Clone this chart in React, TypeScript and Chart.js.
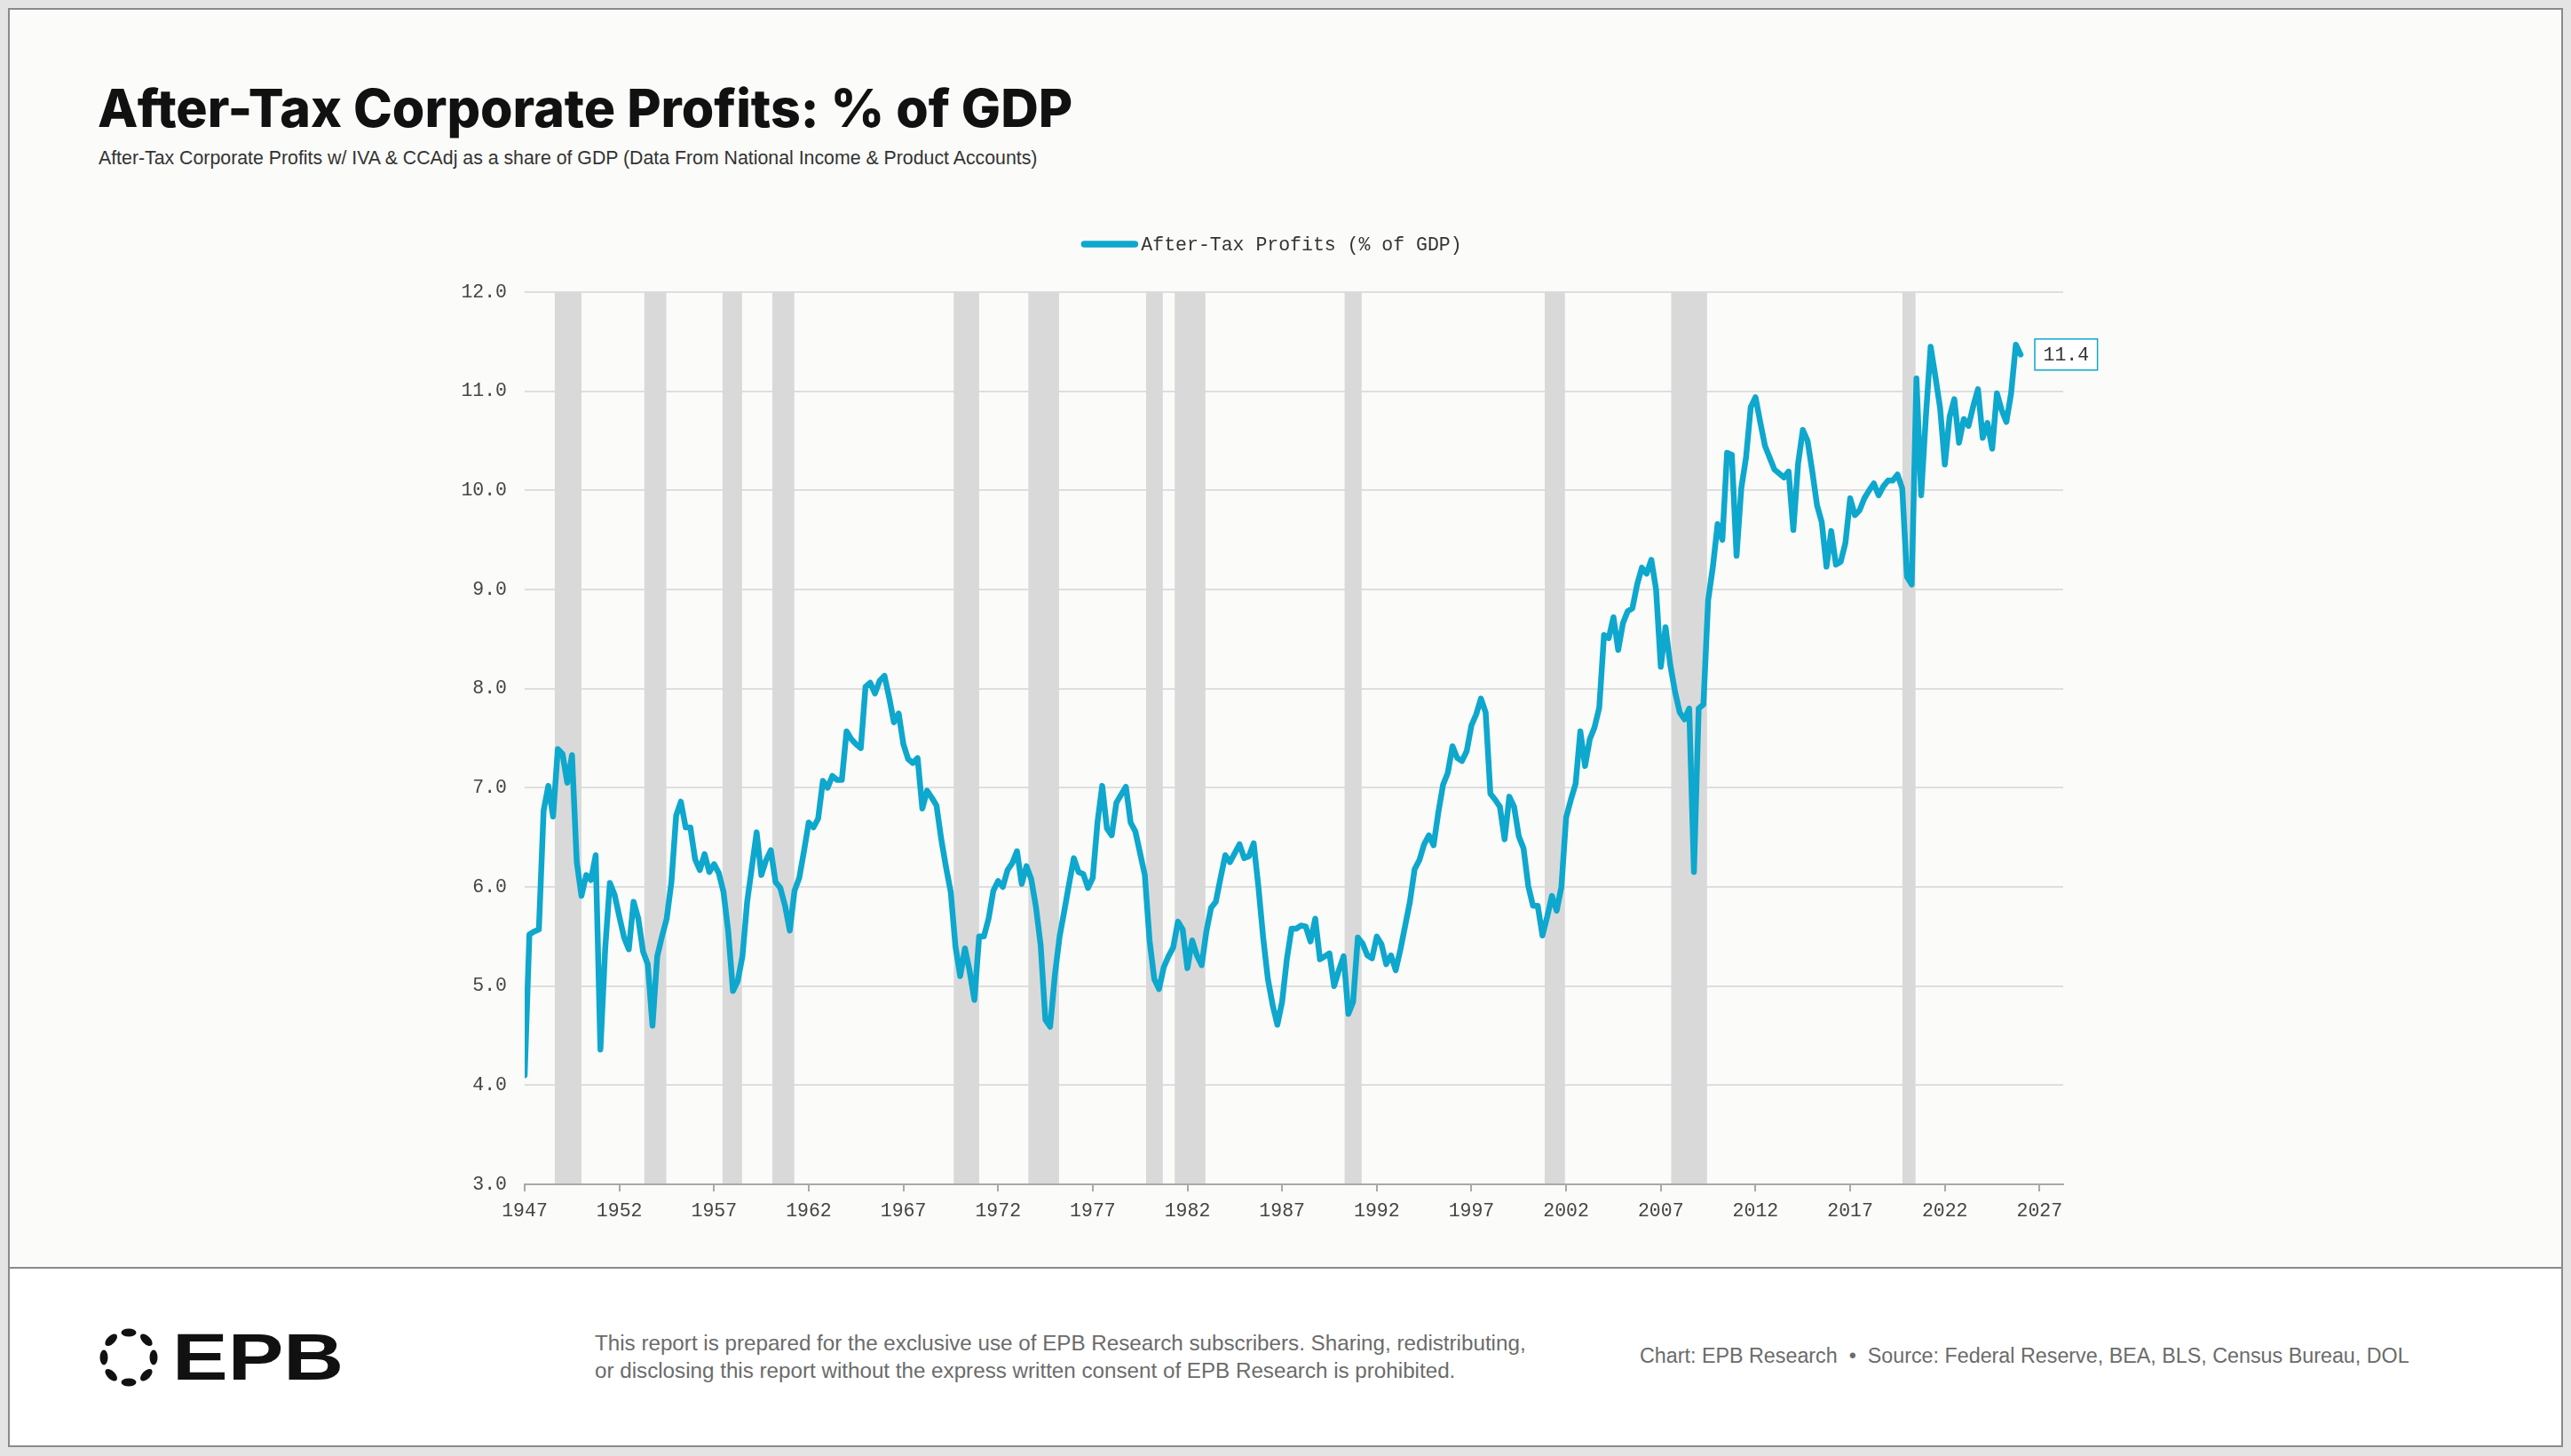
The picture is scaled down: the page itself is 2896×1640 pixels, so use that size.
import React, { useEffect, useRef } from "react";
import { Chart, registerables } from "chart.js";

Chart.register(...registerables);

// ---------------- DATA ----------------
const START_YEAR = 1947; // first quarter 1947Q1, quarterly observations
const profitsPctGdp: number[] = [
  4.10, 5.52, 5.55, 5.57, // 1947
  6.77, 7.02, 6.71, 7.39, // 1948
  7.34, 7.05, 7.33, 6.25, // 1949
  5.91, 6.12, 6.07, 6.32, // 1950
  4.36, 5.37, 6.04, 5.92, // 1951
  5.70, 5.49, 5.37, 5.85, // 1952
  5.68, 5.35, 5.22, 4.60, // 1953
  5.30, 5.50, 5.68, 6.05, // 1954
  6.72, 6.86, 6.60, 6.60, // 1955
  6.28, 6.17, 6.33, 6.15, // 1956
  6.23, 6.14, 5.95, 5.55, // 1957
  4.95, 5.05, 5.30, 5.85, // 1958
  6.20, 6.55, 6.12, 6.27, // 1959
  6.37, 6.05, 5.99, 5.81, // 1960
  5.56, 5.96, 6.09, 6.36, // 1961
  6.65, 6.60, 6.69, 7.07, // 1962
  7.00, 7.12, 7.08, 7.08, // 1963
  7.57, 7.49, 7.44, 7.40, // 1964
  8.02, 8.06, 7.95, 8.08, // 1965
  8.13, 7.91, 7.66, 7.75, // 1966
  7.44, 7.29, 7.25, 7.30, // 1967
  6.79, 6.97, 6.90, 6.82, // 1968
  6.48, 6.20, 5.95, 5.40, // 1969
  5.10, 5.38, 5.15, 4.86, // 1970
  5.50, 5.50, 5.68, 5.96, // 1971
  6.06, 6.00, 6.17, 6.24, // 1972
  6.36, 6.03, 6.21, 6.08, // 1973
  5.80, 5.41, 4.66, 4.59, // 1974
  5.11, 5.50, 5.76, 6.03, // 1975
  6.29, 6.15, 6.13, 5.99, // 1976
  6.09, 6.65, 7.02, 6.59, // 1977
  6.52, 6.85, 6.93, 7.01, // 1978
  6.65, 6.56, 6.34, 6.12, // 1979
  5.46, 5.07, 4.97, 5.19, // 1980
  5.30, 5.39, 5.65, 5.57, // 1981
  5.18, 5.46, 5.31, 5.21, // 1982
  5.55, 5.79, 5.85, 6.09, // 1983
  6.32, 6.25, 6.34, 6.43, // 1984
  6.29, 6.31, 6.44, 6.00, // 1985
  5.49, 5.07, 4.81, 4.61, // 1986
  4.84, 5.27, 5.58, 5.58, // 1987
  5.61, 5.60, 5.45, 5.68, // 1988
  5.27, 5.30, 5.33, 5.00, // 1989
  5.16, 5.30, 4.72, 4.84, // 1990
  5.49, 5.43, 5.31, 5.28, // 1991
  5.50, 5.42, 5.22, 5.31, // 1992
  5.16, 5.37, 5.61, 5.85, // 1993
  6.18, 6.27, 6.43, 6.52, // 1994
  6.42, 6.75, 7.03, 7.15, // 1995
  7.42, 7.30, 7.27, 7.37, // 1996
  7.63, 7.74, 7.90, 7.76, // 1997
  6.94, 6.88, 6.81, 6.48, // 1998
  6.91, 6.81, 6.51, 6.39, // 1999
  6.01, 5.81, 5.81, 5.51, // 2000
  5.70, 5.91, 5.76, 6.00, // 2001
  6.70, 6.88, 7.04, 7.57, // 2002
  7.22, 7.49, 7.61, 7.81, // 2003
  8.54, 8.51, 8.72, 8.39, // 2004
  8.66, 8.78, 8.81, 9.05, // 2005
  9.22, 9.16, 9.30, 9.00, // 2006
  8.22, 8.62, 8.24, 7.97, // 2007
  7.76, 7.69, 7.80, 6.15, // 2008
  7.80, 7.84, 8.89, 9.23, // 2009
  9.66, 9.50, 10.38, 10.36, // 2010
  9.34, 10.02, 10.33, 10.84, // 2011
  10.94, 10.69, 10.45, 10.33, // 2012
  10.21, 10.17, 10.13, 10.19, // 2013
  9.60, 10.27, 10.61, 10.50, // 2014
  10.19, 9.85, 9.68, 9.23, // 2015
  9.59, 9.25, 9.28, 9.47, // 2016
  9.92, 9.75, 9.80, 9.92, // 2017
  10.00, 10.07, 9.95, 10.04, // 2018
  10.10, 10.10, 10.16, 10.02, // 2019
  9.13, 9.05, 11.13, 9.95, // 2020
  10.75, 11.45, 11.15, 10.83, // 2021
  10.26, 10.74, 10.92, 10.48, // 2022
  10.72, 10.65, 10.85, 11.02, // 2023
  10.53, 10.68, 10.42, 10.98, // 2024
  10.81, 10.69, 10.98, 11.47, // 2025
  11.37,
];

// Recession shading (start, end) in decimal years
const recessionStarts: number[] = [1948.59, 1953.32, 1957.45, 1960.08, 1969.66, 1973.6, 1979.82, 1981.33, 1990.3, 2000.87, 2007.55, 2019.76];
const recessionEnds: number[] = [1950.0, 1954.48, 1958.48, 1961.24, 1971.0, 1975.22, 1980.7, 1982.95, 1991.2, 2001.94, 2009.44, 2020.45];

const xTickYears: number[] = [1947, 1952, 1957, 1962, 1967, 1972, 1977, 1982, 1987, 1992, 1997, 2002, 2007, 2012, 2017, 2022, 2027];
const yMin = 3;
const yMax = 12;
const xMin = 1947;
const xMax = 2028.25;

const SERIES_LABEL = "After-Tax Profits (% of GDP)";
const TITLE = "After-Tax Corporate Profits: % of GDP";
const SUBTITLE = "After-Tax Corporate Profits w/ IVA & CCAdj as a share of GDP (Data From National Income & Product Accounts)";
const DISCLAIMER_1 = "This report is prepared for the exclusive use of EPB Research subscribers. Sharing, redistributing,";
const DISCLAIMER_2 = "or disclosing this report without the express written consent of EPB Research is prohibited.";
const SOURCE = "Chart: EPB Research  \u2022  Source: Federal Reserve, BEA, BLS, Census Bureau, DOL";

// ---------------- STYLE ----------------
const LINE_COLOR = "#0ea7cd";
const MONO = "'Liberation Mono', 'DejaVu Sans Mono', monospace";
const SANS = "'Liberation Sans', Arial, sans-serif";
const CANVAS_LEFT = 440;
const CANVAS_TOP = 230;
const CANVAS_W = 2000;
const CANVAS_H = 1180;

const recessionPlugin = {
  id: "recessions",
  beforeDatasetsDraw(chart: any) {
    const { ctx, chartArea, scales } = chart;
    const x = scales.x;
    ctx.save();
    ctx.fillStyle = "#d9d9d9";
    for (let i = 0; i < recessionStarts.length; i++) {
      const x0 = x.getPixelForValue(recessionStarts[i]);
      const x1 = x.getPixelForValue(recessionEnds[i]);
      ctx.fillRect(x0, chartArea.top, x1 - x0, chartArea.bottom - chartArea.top - 1);
    }
    ctx.restore();
  },
};

const legendPlugin = {
  id: "customLegend",
  afterDraw(chart: any) {
    const { ctx } = chart;
    const font = `21.5px ${MONO}`;
    ctx.save();
    ctx.font = font;
    const lineLen = 65;
    const gap = 3;
    const tw = ctx.measureText(SERIES_LABEL).width;
    const total = lineLen + gap + tw;
    const cx = 992;
    const cy = 45;
    const left = cx - total / 2;
    ctx.strokeStyle = LINE_COLOR;
    ctx.lineWidth = 7.5;
    ctx.lineCap = "round";
    ctx.beginPath();
    ctx.moveTo(left + 4, cy);
    ctx.lineTo(left + lineLen - 4, cy);
    ctx.stroke();
    ctx.fillStyle = "#333333";
    ctx.textBaseline = "middle";
    ctx.textAlign = "left";
    ctx.fillText(SERIES_LABEL, left + lineLen + gap, cy + 1);
    ctx.restore();
  },
};

const lastValuePlugin = {
  id: "lastValue",
  afterDatasetsDraw(chart: any) {
    const { ctx } = chart;
    const meta = chart.getDatasetMeta(0);
    const pts = meta.data;
    if (!pts.length) return;
    const pt = pts[pts.length - 1];
    const val = profitsPctGdp[profitsPctGdp.length - 1];
    const text = val.toFixed(1);
    ctx.save();
    ctx.font = `21.5px ${MONO}`;
    const tw = ctx.measureText(text).width;
    const w = tw + 19;
    const h = 35;
    const x = pt.x + 16;
    const y = pt.y - h / 2;
    ctx.fillStyle = "#ffffff";
    ctx.fillRect(x, y, w, h);
    ctx.strokeStyle = LINE_COLOR;
    ctx.lineWidth = 1.5;
    ctx.strokeRect(x, y, w, h);
    ctx.fillStyle = "#333333";
    ctx.textBaseline = "middle";
    ctx.textAlign = "center";
    ctx.fillText(text, x + w / 2, pt.y + 1);
    ctx.restore();
  },
};

function EpbLogo() {
  const petals = [];
  for (let i = 0; i < 8; i++) {
    const a = (i * 45 * Math.PI) / 180;
    const r = 28;
    const cx = 34 + r * Math.sin(a);
    const cy = 34 - r * Math.cos(a);
    petals.push(
      <ellipse key={i} cx={cx} cy={cy} rx={4.5} ry={8.5} fill="#111" transform={`rotate(${i * 45 + 90} ${cx} ${cy})`} />
    );
  }
  return (
    <svg width={68} height={68} viewBox="0 0 68 68" style={{ position: "absolute", left: 111, top: 1495 }}>
      {petals}
    </svg>
  );
}

export default function App() {
  const canvasRef = useRef<HTMLCanvasElement | null>(null);

  useEffect(() => {
    const canvas = canvasRef.current;
    if (!canvas) return;
    const points = profitsPctGdp.map((v, i) => ({ x: START_YEAR + i / 4, y: v }));
    const chart = new Chart(canvas, {
      type: "line",
      data: {
        datasets: [
          {
            label: SERIES_LABEL,
            data: points,
            borderColor: LINE_COLOR,
            backgroundColor: LINE_COLOR,
            borderWidth: 6.5,
            pointRadius: 0,
            pointHoverRadius: 0,
            tension: 0,
            fill: false,
            borderJoinStyle: "round",
            borderCapStyle: "round",
          },
        ],
      },
      options: {
        animation: false,
        responsive: false,
        maintainAspectRatio: false,
        layout: { padding: { top: 99, right: 116, left: 0, bottom: 0 } },
        plugins: {
          legend: { display: false },
          tooltip: { enabled: false },
          title: { display: false },
        },
        scales: {
          x: {
            type: "linear",
            min: xMin,
            max: xMax,
            afterBuildTicks: (scale: any) => {
              scale.ticks = xTickYears.map((v) => ({ value: v }));
            },
            afterFit: (scale: any) => {
              scale.height = 76;
            },
            ticks: {
              autoSkip: false,
              maxRotation: 0,
              padding: 9,
              color: "#444444",
              font: { family: MONO, size: 21.5 },
              callback: (v: any) => String(v),
            },
            grid: {
              drawOnChartArea: false,
              drawTicks: true,
              tickLength: 8,
              color: "#a9a9a9",
              lineWidth: 2,
            },
            border: { display: true, color: "#a9a9a9", width: 2 },
          },
          y: {
            type: "linear",
            min: yMin,
            max: yMax,
            afterFit: (scale: any) => {
              scale.width = 151;
            },
            ticks: {
              stepSize: 1,
              padding: 20,
              color: "#444444",
              font: { family: MONO, size: 21.5 },
              callback: (v: any) => Number(v).toFixed(1),
            },
            grid: { color: "#dedede", lineWidth: 2, drawTicks: false },
            border: { display: false },
          },
        },
      },
      plugins: [recessionPlugin, lastValuePlugin, legendPlugin],
    });
    return () => chart.destroy();
  }, []);

  return (
    <div style={{ position: "fixed", left: 0, top: 0, width: 2896, height: 1640, background: "#e4e4e4", overflow: "hidden" }}>
      <div style={{ position: "absolute", left: 9, top: 9, width: 2878, height: 1621, boxSizing: "border-box", border: "2px solid #8a8a8a", background: "#fbfbf9" }} />
      <div style={{ position: "absolute", left: 11, top: 1429, width: 2874, height: 199, background: "#ffffff" }} />
      <div style={{ position: "absolute", left: 11, top: 1427, width: 2874, height: 2, background: "#8a8a8a" }} />

      <div style={{ position: "absolute", left: 110, top: 92, fontFamily: "Inter, 'Liberation Sans', sans-serif", fontWeight: 800, fontSize: 59, lineHeight: "59px", letterSpacing: 0, color: "#111111", whiteSpace: "nowrap" }}>
        {TITLE}
      </div>
      <div style={{ position: "absolute", left: 111, top: 168, fontFamily: SANS, fontSize: 21.3, lineHeight: "21.3px", color: "#333333", whiteSpace: "nowrap" }}>
        {SUBTITLE}
      </div>

      <canvas
        ref={canvasRef}
        width={CANVAS_W}
        height={CANVAS_H}
        style={{ position: "absolute", left: CANVAS_LEFT, top: CANVAS_TOP, width: CANVAS_W, height: CANVAS_H }}
      />

      <EpbLogo />
      <div style={{ position: "absolute", left: 194, top: 1492, fontFamily: SANS, fontWeight: 700, fontSize: 74, lineHeight: "74px", color: "#111111", whiteSpace: "nowrap", transform: "scaleX(1.27)", transformOrigin: "left top" }}>
        EPB
      </div>
      <div style={{ position: "absolute", left: 670, top: 1497, fontFamily: SANS, fontSize: 24.2, lineHeight: "31px", color: "#6b6b6b", whiteSpace: "nowrap" }}>
        <div>{DISCLAIMER_1}</div>
        <div>{DISCLAIMER_2}</div>
      </div>
      <div style={{ position: "absolute", left: 1847, top: 1516, fontFamily: SANS, fontSize: 23.3, lineHeight: "23.3px", color: "#6b6b6b", whiteSpace: "pre" }}>
        {SOURCE}
      </div>
    </div>
  );
}
